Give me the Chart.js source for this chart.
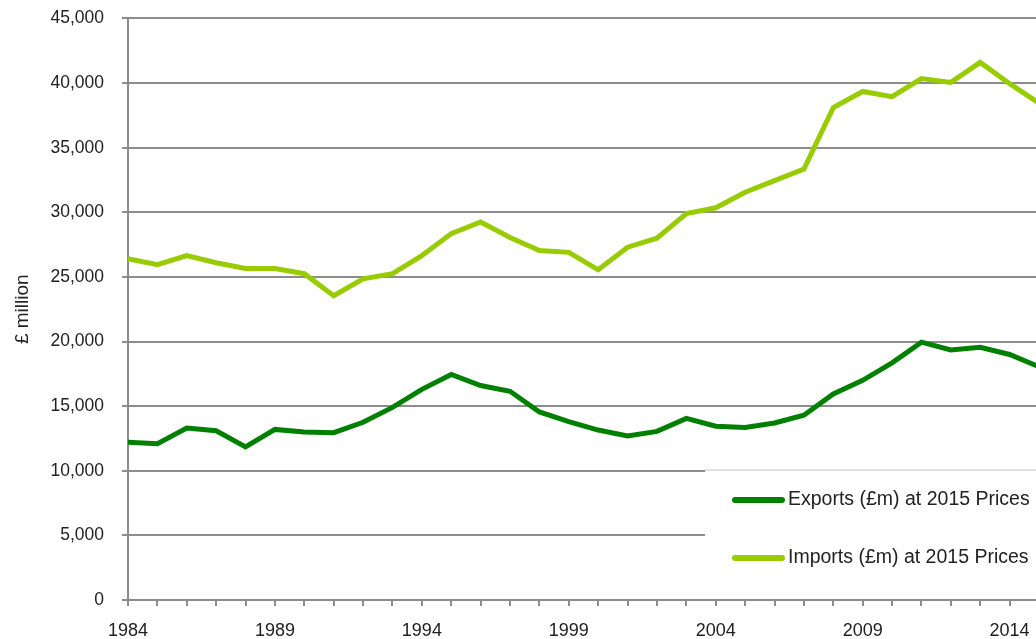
<!DOCTYPE html>
<html>
<head>
<meta charset="utf-8">
<script src="https://cdn.jsdelivr.net/npm/chart.js@4/dist/chart.umd.min.js"></script>
<style>
  html, body { margin: 0; padding: 0; background: #fff; overflow: hidden; }
  #wrap { position: relative; width: 1060px; height: 639px; }
</style>
</head>
<body>
<div id="wrap"><canvas id="myChart"></canvas></div>
<script>
const years = [1984, 1985, 1986, 1987, 1988, 1989, 1990, 1991, 1992, 1993,
               1994, 1995, 1996, 1997, 1998, 1999, 2000, 2001, 2002, 2003,
               2004, 2005, 2006, 2007, 2008, 2009, 2010, 2011, 2012, 2013,
               2014, 2015]

const exportsGbp = [12200, 12100, 13300, 13100, 11850, 13200, 13000, 12950, 13750, 14900,
                    16300, 17450, 16600, 16150, 14550, 13800, 13150, 12700, 13050, 14050,
                    13450, 13350, 13700, 14300, 15950, 17000, 18350, 19950, 19350, 19550,
                    19000, 18050]

const importsGbp = [26400, 25950, 26650, 26100, 25650, 25650, 25250, 23550, 24850, 25250,
                    26650, 28350, 29250, 28050, 27050, 26900, 25550, 27300, 28000, 29900,
                    30350, 31550, 32450, 33350, 38100, 39350, 38950, 40350, 40050, 41600,
                    39950, 38450]

const seriesLabels = ['Exports (£m) at 2015 Prices', 'Imports (£m) at 2015 Prices']
const seriesColors = ['#008000', '#99cc00']

const yTicks = [0, 5000, 10000, 15000, 20000, 25000, 30000, 35000, 40000, 45000]
const labelEvery = 5

Chart.defaults.font.family = "'Liberation Sans', Arial, sans-serif"
Chart.defaults.color = '#222'

const gridGrey = '#8c8c8c'

// legend sits inside the plot, bottom right, on a white box over the grid
const legendBox = {
    id: 'legendBox',
    beforeDatasetsDraw: function (chart) {
        const ctx = chart.ctx
        const area = chart.chartArea
        const left = 705
        const top = 470
        ctx.save()
        ctx.fillStyle = '#fff'
        ctx.fillRect(left, top, chart.width - left, area.bottom - 1.5 - top)
        ctx.strokeStyle = '#d6d6d6'
        ctx.lineWidth = 1.5
        ctx.beginPath()
        ctx.moveTo(left, top)
        ctx.lineTo(chart.width, top)
        ctx.stroke()

        ctx.font = "19.5px 'Liberation Sans', Arial, sans-serif"
        ctx.textBaseline = 'middle'
        ctx.textAlign = 'left'
        chart.data.datasets.forEach(function (ds, i) {
            const y = 500 + i * 58
            ctx.strokeStyle = ds.borderColor
            ctx.lineWidth = 6
            ctx.lineCap = 'round'
            ctx.beginPath()
            ctx.moveTo(735, y)
            ctx.lineTo(782, y)
            ctx.stroke()
            ctx.fillStyle = '#222'
            ctx.fillText(ds.label, 788, y)
        })
        ctx.restore()
    }
}

const ctx = document.getElementById('myChart').getContext('2d')

const chart = new Chart(ctx, {
    type: 'line',
    data: {
        labels: years.map(String),
        datasets: [
            {
                label: seriesLabels[0],
                data: exportsGbp,
                borderColor: seriesColors[0],
                backgroundColor: seriesColors[0],
                borderWidth: 5,
                pointRadius: 0,
                tension: 0,
                fill: false
            },
            {
                label: seriesLabels[1],
                data: importsGbp,
                borderColor: seriesColors[1],
                backgroundColor: seriesColors[1],
                borderWidth: 5,
                pointRadius: 0,
                tension: 0,
                fill: false
            }
        ]
    },
    options: {
        responsive: true,
        maintainAspectRatio: false,
        animation: false,
        layout: { padding: { top: 18, right: 21, left: 0, bottom: 0 } },
        plugins: {
            legend: { display: false },
            tooltip: { enabled: false }
        },
        scales: {
            x: {
                type: 'category',
                offset: false,
                afterFit: function (scale) { scale.height = 39 },
                grid: {
                    drawOnChartArea: false,
                    drawTicks: true,
                    tickLength: 6,
                    color: gridGrey,
                    lineWidth: 2
                },
                border: { display: true, color: gridGrey, width: 2 },
                ticks: {
                    autoSkip: false,
                    maxRotation: 0,
                    padding: 14,
                    font: { size: 18 },
                    color: '#222',
                    callback: function (val, idx) {
                        return idx % labelEvery === 0 ? this.getLabelForValue(val) : ''
                    }
                }
            },
            y: {
                min: yTicks[0],
                max: yTicks[yTicks.length - 1],
                afterFit: function (scale) { scale.width = 128 },
                afterBuildTicks: function (scale) {
                    scale.ticks = yTicks.map(function (v) { return { value: v } })
                },
                grid: {
                    drawTicks: true,
                    tickLength: 6,
                    color: gridGrey,
                    lineWidth: 2
                },
                border: { display: true, color: gridGrey, width: 2 },
                ticks: {
                    padding: 18,
                    // tiny line height so the top label doesn't push the plot down
                    font: { size: 17.5, lineHeight: 0.05 },
                    color: '#222',
                    callback: function (v) { return v.toLocaleString('en-GB') }
                },
                title: {
                    display: true,
                    text: '£ million',
                    font: { size: 19 },
                    color: '#222',
                    padding: { top: 11, bottom: 0 }
                }
            }
        }
    },
    plugins: [legendBox]
})
</script>
</body>
</html>
